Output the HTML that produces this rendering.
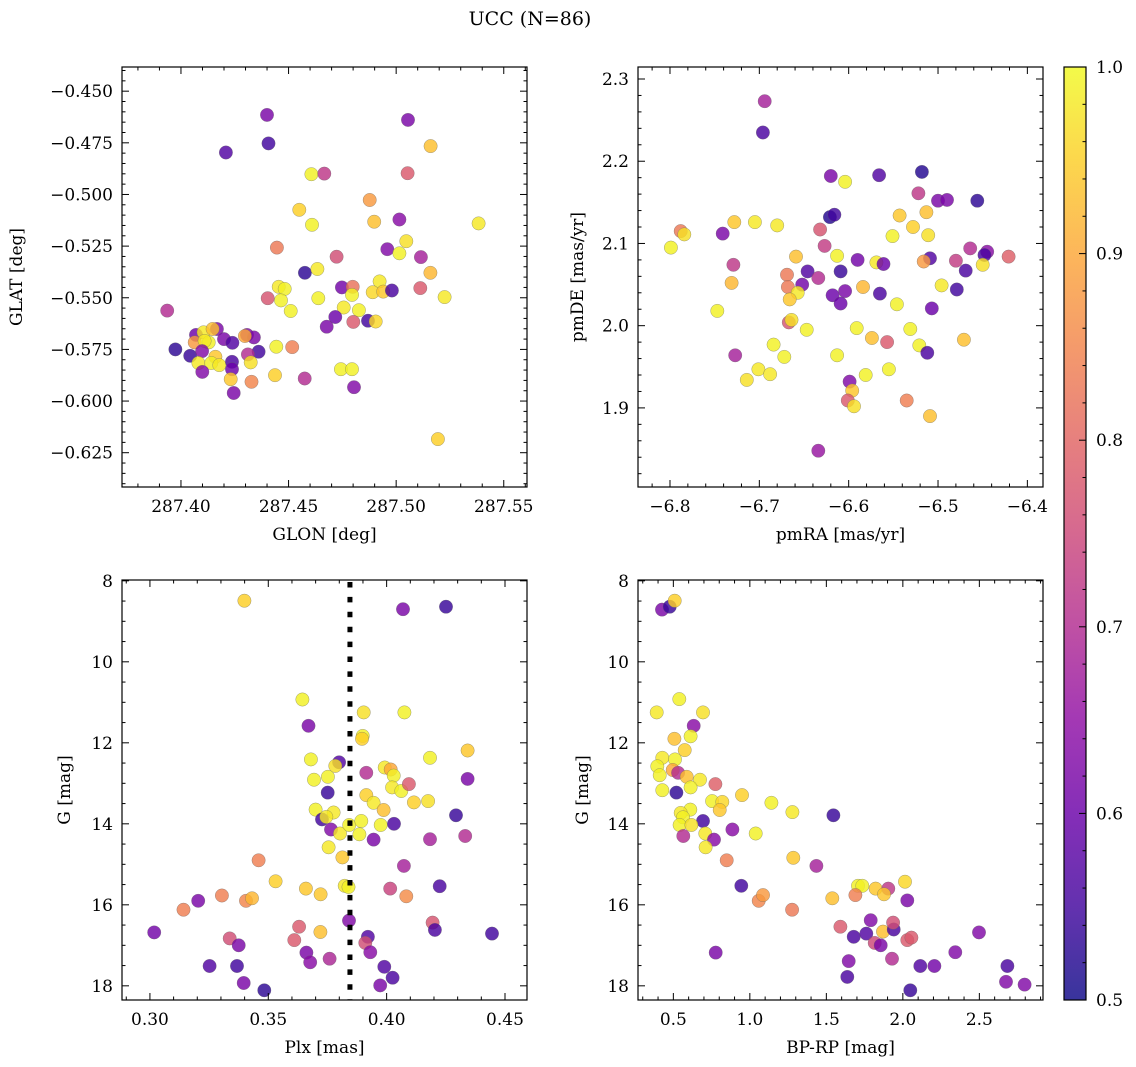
<!DOCTYPE html>
<html><head><meta charset="utf-8">
<style>
html,body{margin:0;padding:0;background:#fff;}
svg{display:block;font-family:"DejaVu Serif","Liberation Serif",serif;}
</style></head>
<body>
<svg id="fig" width="1136" height="1067" viewBox="0 0 1136 1067" xmlns="http://www.w3.org/2000/svg">
<text x="530" y="25" font-size="19" text-anchor="middle">UCC (N=86)</text>
</svg>
<script>
// ---- Panel 1: GLON vs GLAT ----
const glonVals = [287.4400,287.5055,287.4407,287.4209,287.5160,287.4606,287.4666,287.5053,287.4877,287.4550,287.4898,287.5015,287.5383,287.4609,287.5047,287.4446,287.4959,287.5015,287.5115,287.4723,287.5159,287.4576,287.4634,287.4454,287.4482,287.4748,287.4798,287.4795,287.4923,287.4891,287.4940,287.4980,287.5112,287.5225,287.4403,287.4465,287.4638,287.4510,287.4756,287.4827,287.4717,287.4869,287.4905,287.4801,287.4677,287.3936,287.3974,287.4043,287.4070,287.4105,287.4064,287.4167,287.4147,287.4129,287.4110,287.4200,287.4239,287.4098,287.4160,287.4081,287.4141,287.4178,287.4099,287.4237,287.4237,287.4231,287.4245,287.4307,287.4339,287.4297,287.4361,287.4311,287.4324,287.4443,287.4517,287.4437,287.4328,287.4575,287.4743,287.4795,287.4804,287.5194];
const glatVals = [-0.4615,-0.4639,-0.4753,-0.4797,-0.4766,-0.4902,-0.4899,-0.4897,-0.5027,-0.5074,-0.5132,-0.5121,-0.5140,-0.5147,-0.5226,-0.5257,-0.5265,-0.5285,-0.5303,-0.5301,-0.5379,-0.5379,-0.5361,-0.5447,-0.5457,-0.5450,-0.5447,-0.5486,-0.5421,-0.5473,-0.5470,-0.5465,-0.5453,-0.5497,-0.5502,-0.5513,-0.5502,-0.5564,-0.5547,-0.5560,-0.5593,-0.5611,-0.5615,-0.5617,-0.5640,-0.5562,-0.5750,-0.5781,-0.5680,-0.5667,-0.5716,-0.5651,-0.5651,-0.5716,-0.5709,-0.5700,-0.5718,-0.5758,-0.5786,-0.5816,-0.5816,-0.5826,-0.5859,-0.5810,-0.5846,-0.5894,-0.5961,-0.5680,-0.5692,-0.5685,-0.5761,-0.5774,-0.5813,-0.5737,-0.5739,-0.5875,-0.5907,-0.5891,-0.5846,-0.5846,-0.5933,-0.6184];
const probP1 = [0.62,0.62,0.55,0.57,0.93,0.99,0.72,0.78,0.88,0.95,0.93,0.64,0.98,0.99,0.97,0.83,0.63,0.99,0.68,0.76,0.92,0.53,0.98,0.98,0.99,0.61,0.82,0.99,0.98,0.96,0.94,0.56,0.78,0.98,0.77,0.99,0.99,0.99,0.98,0.99,0.60,0.55,0.96,0.78,0.62,0.70,0.53,0.54,0.60,0.98,0.88,0.62,0.93,0.99,0.98,0.62,0.57,0.63,0.94,0.98,0.99,0.98,0.63,0.56,0.60,0.94,0.62,0.63,0.62,0.90,0.55,0.70,0.97,0.99,0.84,0.95,0.85,0.70,0.99,0.99,0.63,0.95];
const glonTicks = [287.40,287.45,287.50,287.55];
const glatTicks = [-0.450,-0.475,-0.500,-0.525,-0.550,-0.575,-0.600,-0.625];

// ---- Panel 2: pmRA vs pmDE ----
const pmraVals = [-6.694,-6.696,-6.620,-6.604,-6.566,-6.518,-6.522,-6.500,-6.490,-6.456,-6.621,-6.616,-6.543,-6.513,-6.528,-6.511,-6.551,-6.632,-6.627,-6.788,-6.784,-6.799,-6.741,-6.728,-6.705,-6.680,-6.659,-6.613,-6.590,-6.569,-6.561,-6.509,-6.516,-6.480,-6.464,-6.445,-6.448,-6.421,-6.450,-6.469,-6.729,-6.731,-6.669,-6.668,-6.646,-6.652,-6.634,-6.609,-6.657,-6.666,-6.618,-6.604,-6.609,-6.584,-6.565,-6.496,-6.479,-6.546,-6.507,-6.747,-6.667,-6.664,-6.647,-6.591,-6.531,-6.574,-6.557,-6.521,-6.512,-6.471,-6.727,-6.684,-6.672,-6.613,-6.701,-6.688,-6.714,-6.581,-6.555,-6.599,-6.596,-6.601,-6.594,-6.535,-6.509,-6.634];
const pmdeVals = [2.273,2.235,2.182,2.175,2.183,2.187,2.161,2.152,2.153,2.152,2.132,2.135,2.134,2.138,2.120,2.110,2.109,2.117,2.097,2.115,2.111,2.095,2.112,2.126,2.126,2.122,2.084,2.085,2.080,2.077,2.075,2.082,2.078,2.079,2.094,2.090,2.086,2.084,2.074,2.067,2.074,2.052,2.062,2.047,2.066,2.050,2.058,2.066,2.040,2.032,2.037,2.042,2.027,2.047,2.039,2.049,2.044,2.026,2.021,2.018,2.004,2.007,1.995,1.997,1.996,1.985,1.980,1.976,1.967,1.983,1.964,1.977,1.962,1.964,1.947,1.941,1.934,1.940,1.947,1.932,1.921,1.909,1.902,1.909,1.890,1.848];
const probP2 = [0.68,0.56,0.62,0.99,0.57,0.52,0.72,0.62,0.62,0.53,0.52,0.55,0.94,0.93,0.95,0.97,0.99,0.77,0.73,0.83,0.97,0.99,0.62,0.94,0.98,0.98,0.93,0.99,0.61,0.98,0.60,0.57,0.88,0.73,0.70,0.64,0.56,0.79,0.97,0.56,0.72,0.92,0.83,0.83,0.57,0.61,0.70,0.54,0.98,0.94,0.60,0.62,0.60,0.92,0.56,0.98,0.55,0.99,0.60,0.99,0.77,0.97,0.99,0.99,0.99,0.93,0.78,0.99,0.56,0.93,0.68,0.99,0.99,0.99,0.98,0.98,0.97,0.99,0.99,0.63,0.94,0.78,0.97,0.84,0.93,0.66];
const pmraTicks = [-6.8,-6.7,-6.6,-6.5,-6.4];
const pmdeTicks = [1.9,2.0,2.1,2.2,2.3];

// ---- Panel 3: Plx vs G ----
const plxVals = [0.3399,0.4069,0.4251,0.3644,0.3670,0.3903,0.4075,0.3899,0.3896,0.4342,0.4183,0.3680,0.3799,0.3783,0.3914,0.3992,0.4017,0.4030,0.3693,0.3752,0.4342,0.3751,0.3914,0.3945,0.4023,0.4062,0.4094,0.4115,0.4175,0.3987,0.3700,0.3776,0.3727,0.3745,0.4293,0.3765,0.3803,0.3842,0.3893,0.3885,0.3975,0.4031,0.3945,0.4183,0.4332,0.3755,0.3813,0.4073,0.3459,0.3531,0.3659,0.3721,0.3823,0.3839,0.4015,0.4083,0.4224,0.3204,0.3304,0.3406,0.3431,0.3142,0.3018,0.3337,0.3375,0.3630,0.3610,0.3720,0.3841,0.3921,0.3910,0.3931,0.3661,0.3677,0.3759,0.4194,0.4204,0.4445,0.3252,0.3368,0.3396,0.3483,0.3990,0.4025,0.3973];
const gPlxVals = [8.49,8.70,8.64,10.93,11.58,11.25,11.25,11.83,11.90,12.19,12.37,12.41,12.48,12.57,12.74,12.61,12.66,12.81,12.91,12.84,12.89,13.23,13.29,13.48,13.10,13.19,13.02,13.47,13.44,13.66,13.65,13.72,13.89,13.83,13.79,14.14,14.24,14.03,13.93,14.26,14.03,14.00,14.39,14.38,14.30,14.58,14.83,15.04,14.90,15.42,15.60,15.74,15.53,15.56,15.60,15.79,15.54,15.90,15.77,15.90,15.84,16.12,16.68,16.83,17.00,16.54,16.87,16.67,16.39,16.79,16.94,17.17,17.18,17.42,17.33,16.44,16.62,16.71,17.51,17.51,17.93,18.11,17.53,17.80,17.99];
const probP3 = [0.95,0.62,0.54,0.99,0.62,0.97,0.99,0.99,0.95,0.94,0.99,0.99,0.57,0.97,0.70,0.98,0.90,0.99,0.99,0.99,0.62,0.54,0.95,0.98,0.98,0.99,0.78,0.95,0.97,0.93,0.99,0.98,0.55,0.98,0.54,0.63,0.98,0.99,0.99,0.99,0.99,0.56,0.62,0.68,0.70,0.98,0.94,0.68,0.84,0.95,0.94,0.94,0.98,0.99,0.74,0.86,0.56,0.62,0.84,0.85,0.92,0.84,0.61,0.76,0.62,0.78,0.78,0.93,0.63,0.57,0.76,0.64,0.62,0.64,0.69,0.77,0.56,0.55,0.57,0.55,0.62,0.53,0.57,0.56,0.62];
const plxTicks = [0.30,0.35,0.40,0.45];
const gTicks = [8,10,12,14,16,18];
const plxMedian = [0.3845];

// ---- Panel 4: BP-RP vs G ----
const bprpVals = [0.426,0.476,0.509,0.539,0.391,0.694,0.633,0.507,0.613,0.574,0.428,0.511,0.395,0.496,0.531,0.587,0.411,0.674,0.613,0.775,0.428,0.520,0.949,0.753,0.820,0.803,1.141,1.278,1.546,0.611,0.548,0.563,0.694,0.541,0.618,0.565,0.709,0.766,0.711,0.886,1.038,0.849,1.284,1.435,0.944,1.058,1.086,1.276,1.539,1.707,1.735,1.690,1.822,1.905,1.877,2.014,2.029,1.592,1.679,1.761,1.790,1.816,1.855,1.870,1.940,1.936,2.029,2.056,0.777,1.646,1.637,1.929,2.114,2.206,2.343,2.498,2.683,2.674,2.796,2.049];
const gCmdVals = [8.71,8.64,8.49,10.92,11.25,11.25,11.58,11.90,11.84,12.18,12.37,12.41,12.58,12.67,12.74,12.84,12.80,12.91,13.10,13.02,13.17,13.23,13.29,13.44,13.46,13.66,13.48,13.71,13.79,13.65,13.73,13.84,13.93,14.03,14.03,14.30,14.24,14.39,14.58,14.14,14.24,14.90,14.84,15.04,15.53,15.90,15.76,16.12,15.84,15.53,15.53,15.76,15.60,15.60,15.74,15.43,15.89,16.54,16.79,16.71,16.38,16.94,17.00,16.66,16.61,16.44,16.87,16.81,17.18,17.39,17.78,17.33,17.51,17.51,17.17,16.68,17.51,17.90,17.97,18.11];
const probP4 = [0.62,0.54,0.95,0.99,0.98,0.97,0.64,0.93,0.99,0.95,0.98,0.99,0.99,0.90,0.70,0.93,0.99,0.98,0.99,0.79,0.99,0.53,0.95,0.99,0.96,0.94,0.99,0.98,0.54,0.99,0.98,0.99,0.55,0.99,0.97,0.70,0.98,0.64,0.98,0.64,0.99,0.84,0.94,0.68,0.55,0.85,0.88,0.83,0.93,0.99,0.99,0.84,0.94,0.72,0.94,0.96,0.62,0.78,0.56,0.57,0.63,0.75,0.62,0.93,0.56,0.76,0.78,0.78,0.62,0.63,0.56,0.70,0.57,0.61,0.63,0.63,0.56,0.63,0.63,0.54];
const bprpTicks = [0.5,1.0,1.5,2.0,2.5];

// colorbar
const cbarTicks = [0.5,0.6,0.7,0.8,0.9,1.0];

const NS = "http://www.w3.org/2000/svg";
const svg = document.getElementById('fig');
const plasma = ["#0d0887","#41049d","#6a00a8","#8f0da4","#b12a90","#cc4778","#e16462","#f2844b","#fca636","#fcce25","#f0f921"];
function hex(c){return [1,3,5].map(i=>parseInt(c.substr(i,2),16));}
function cmap(p){
  let t=Math.max(0,Math.min(1,(p-0.5)/0.5))*10;
  let i=Math.min(9,Math.floor(t)),f=t-i;
  let a=hex(plasma[i]),b=hex(plasma[i+1]);
  return 'rgb('+a.map((v,k)=>Math.round(v+(b[k]-v)*f)).join(',')+')';
}
function mk(tag,attrs,parent){
  const e=document.createElementNS(NS,tag);
  for(const k in attrs)e.setAttribute(k,attrs[k]);
  (parent||svg).appendChild(e);return e;
}
function fmt(v,d){return (v<0?'\u2212':'')+Math.abs(v).toFixed(d);}

function panel(o){
  const g=mk('g',{});
  
  
  const X=v=>o.x0+(v-o.xlim[0])/(o.xlim[1]-o.xlim[0])*o.w;
  const Y=v=>o.y0+(v-o.ylim[0])/(o.ylim[1]-o.ylim[0])*o.h;
  const pg=mk('g',{},g);
  
  
  for(let i=0;i<o.xs.length;i++){
    const c=mk('circle',{cx:X(o.xs[i]).toFixed(1),cy:Y(o.ys[i]).toFixed(1),r:6.7,fill:cmap(o.ps[i]),'fill-opacity':0.82,stroke:'#666','stroke-width':0.5,'stroke-opacity':0.6},pg);
    
    
  }
  if(o.vline){
    const l=mk('line',{x1:X(o.vline),x2:X(o.vline),y1:o.y0+2,y2:o.y0+o.h,stroke:'#000','stroke-width':5,'stroke-dasharray':'5.5,9.4'},g);
    
    
  }
  const fr=mk('rect',{x:o.x0,y:o.y0,width:o.w,height:o.h,fill:'none',stroke:'#000','stroke-width':1.2},g);
  
  
  const tk=mk('g',{stroke:'#000','stroke-width':1},g);
  const xa=Math.min(o.xlim[0],o.xlim[1]),xb=Math.max(o.xlim[0],o.xlim[1]);
  for(let v=Math.ceil(xa/o.xmin-1e-6)*o.xmin;v<=xb+1e-9;v+=o.xmin){
    const px=X(v); const maj=Math.abs(v/o.xmaj-Math.round(v/o.xmaj))<1e-4; const L=maj?7:3.5;
    mk('line',{x1:px,x2:px,y1:o.y0+o.h,y2:o.y0+o.h-L},tk);mk('line',{x1:px,x2:px,y1:o.y0,y2:o.y0+L},tk);
  }
  const ya=Math.min(o.ylim[0],o.ylim[1]),yb=Math.max(o.ylim[0],o.ylim[1]);
  for(let v=Math.ceil(ya/o.ymin-1e-6)*o.ymin;v<=yb+1e-9;v+=o.ymin){
    const py=Y(v); const maj=Math.abs(v/o.ymaj-Math.round(v/o.ymaj))<1e-4; const L=maj?7:3.5;
    mk('line',{x1:o.x0,x2:o.x0+L,y1:py,y2:py},tk);mk('line',{x1:o.x0+o.w,x2:o.x0+o.w-L,y1:py,y2:py},tk);
  }
  for(const v of o.xticks){
    const t=mk('text',{x:X(v),y:o.y0+o.h+25,'font-size':17,'text-anchor':'middle'},g);
    t.textContent=fmt(v,o.xd);
    
    
  }
  for(const v of o.yticks){
    const t=mk('text',{x:o.x0-9,y:Y(v)+6,'font-size':17,'text-anchor':'end'},g);
    t.textContent=fmt(v,o.yd);
    
    
  }
  const xt=mk('text',{x:o.x0+o.w/2,y:o.y0+o.h+53,'font-size':17,'text-anchor':'middle'},g);
  xt.textContent=o.xlabel;
  
  
  const yt=mk('text',{x:0,y:0,'font-size':17,'text-anchor':'middle',transform:'translate('+o.ylx+','+(o.y0+o.h/2)+') rotate(-90)'},g);
  yt.textContent=o.ylabel;
  
  
}

panel({name:'glon-glat-panel',x0:122,y0:67,w:405,h:420,xlim:[287.3726,287.5608],ylim:[-0.4383,-0.6416],xs:glonVals,ys:glatVals,ps:probP1,xticks:glonTicks,yticks:glatTicks,xd:2,yd:3,xmaj:0.05,xmin:0.01,ymaj:0.025,ymin:0.005,xlabel:'GLON [deg]',ylabel:'GLAT [deg]',ylx:22});
panel({name:'pm-panel',x0:638,y0:67,w:405,h:420,xlim:[-6.8358,-6.3825],ylim:[2.3146,1.8038],xs:pmraVals,ys:pmdeVals,ps:probP2,xticks:pmraTicks,yticks:pmdeTicks,xd:1,yd:1,xmaj:0.1,xmin:0.02,ymaj:0.1,ymin:0.02,xlabel:'pmRA [mas/yr]',ylabel:'pmDE [mas/yr]',ylx:583});
panel({name:'plx-g-panel',x0:122,y0:580,w:405,h:420,xlim:[0.2882,0.4593],ylim:[7.98,18.35],xs:plxVals,ys:gPlxVals,ps:probP3,xticks:plxTicks,yticks:gTicks,xd:2,yd:0,xmaj:0.05,xmin:0.01,ymaj:2,ymin:0.5,xlabel:'Plx [mas]',ylabel:'G [mag]',ylx:70,vline:plxMedian[0]});
panel({name:'cmd-panel',x0:638,y0:580,w:405,h:420,xlim:[0.269,2.916],ylim:[7.98,18.35],xs:bprpVals,ys:gCmdVals,ps:probP4,xticks:bprpTicks,yticks:gTicks,xd:1,yd:0,xmaj:0.5,xmin:0.1,ymaj:2,ymin:0.5,xlabel:'BP-RP [mag]',ylabel:'G [mag]',ylx:588});

(function(){
  const cx=1064,cy=67,cw=22,ch=933;
  const g=mk('g',{});
  
  
  const defs=mk('defs',{},g);
  const lg=mk('linearGradient',{id:'cg',x1:0,y1:1,x2:0,y2:0},defs);
  plasma.forEach((c,i)=>mk('stop',{offset:i/10,'stop-color':c},lg));
  mk('rect',{x:cx,y:cy,width:cw,height:ch,fill:'url(#cg)','fill-opacity':0.82},g);
  mk('rect',{x:cx,y:cy,width:cw,height:ch,fill:'none',stroke:'#000','stroke-width':1.2},g);
  const Y=v=>cy+ch-(v-0.5)/0.5*ch;
  for(let k=0;k<=25;k++){
    const v=0.5+k*0.02,maj=k%5==0;
    mk('line',{x1:cx+cw,x2:cx+cw-(maj?7:3.5),y1:Y(v),y2:Y(v),stroke:'#000','stroke-width':1},g);
  }
  for(const v of cbarTicks){
    const t=mk('text',{x:cx+cw+10,y:Y(v)+6,'font-size':17},g);
    t.textContent=v.toFixed(1);
    
    
  }
})();
</script>
</body></html>
